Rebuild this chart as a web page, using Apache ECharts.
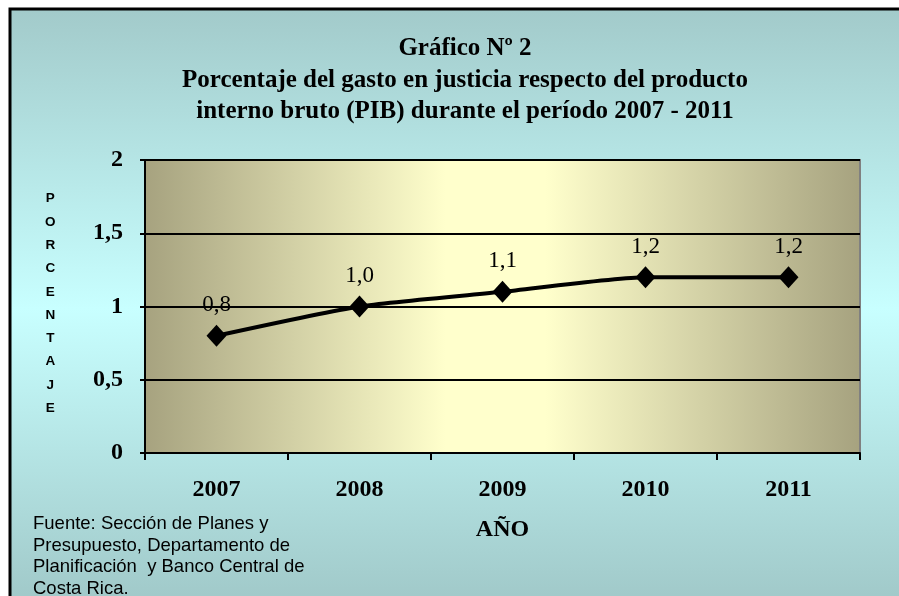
<!DOCTYPE html>
<html>
<head>
<meta charset="utf-8">
<style>html,body{margin:0;padding:0;background:#fff;}#c{width:899px;height:596px;}</style>
<script src="https://cdn.jsdelivr.net/npm/echarts@6/dist/echarts.min.js"></script>
</head>
<body>
<div id="c"></div>
<script>
const categories = ['2007', '2008', '2009', '2010', '2011'];
const values = [0.8, 1.0, 1.1, 1.2, 1.2];
const yTicks = ['0', '0,5', '1', '1,5', '2'];
const titleLines = ['Gráfico Nº 2', 'Porcentaje del gasto en justicia respecto del producto', 'interno bruto (PIB) durante el período 2007 - 2011'];
const yName = 'PORCENTAJE';
const xName = 'AÑO';
const sourceLines = ['Fuente: Sección de Planes y', 'Presupuesto, Departamento de', 'Planificación  y Banco Central de', 'Costa Rica.'];

const serif = '"Liberation Serif", "Times New Roman", serif';
const sans = '"Liberation Sans", Arial, sans-serif';

const chart = echarts.init(document.getElementById('c'));
chart.setOption({
  animation: false,
  title: {
    text: titleLines.join('\n'),
    left: 460, top: 28, textAlign: 'center',
    textStyle: { fontFamily: serif, fontWeight: 'bold', fontSize: 25, lineHeight: 31.5, color: '#000' }
  },
  graphic: [
    {
      type: 'rect', z: -10, silent: true,
      shape: { x: 10, y: 9, width: 900, height: 600 },
      style: {
        fill: new echarts.graphic.LinearGradient(0, 0, 0, 1, [
          { offset: 0, color: '#a2caca' },
          { offset: 0.5, color: '#c8ffff' },
          { offset: 1, color: '#9fc7c7' }
        ]),
        stroke: '#000', lineWidth: 3
      }
    },
    {
      type: 'text', left: 45, top: 187, z: 5,
      style: {
        text: yName.split('').join('\n'),
        font: 'bold 13.5px ' + sans, lineHeight: 23.3, fill: '#000', textAlign: 'center'
      }
    },
    {
      type: 'text', left: 33, top: 513, z: 5,
      style: {
        text: sourceLines.join('\n'),
        font: '18.5px ' + sans, lineHeight: 21.7, fill: '#000'
      }
    }
  ],
  grid: {
    left: 145, right: 39, top: 160, bottom: 143,
    show: true, borderColor: '#808080', borderWidth: 2,
    backgroundColor: new echarts.graphic.LinearGradient(0, 0, 1, 0, [
      { offset: 0, color: '#a6a27f' },
      { offset: 0.42, color: '#ffffcc' },
      { offset: 0.56, color: '#ffffcc' },
      { offset: 1, color: '#a6a27f' }
    ])
  },
  xAxis: {
    type: 'category', data: categories, boundaryGap: true,
    name: xName, nameLocation: 'middle', nameGap: 65,
    nameTextStyle: { fontFamily: serif, fontWeight: 'bold', fontSize: 24, color: '#000' },
    axisLine: { lineStyle: { color: '#000', width: 2 } },
    axisTick: { show: true, length: 7, lineStyle: { color: '#000', width: 2 }, alignWithLabel: false },
    axisLabel: { margin: 25, fontFamily: serif, fontWeight: 'bold', fontSize: 24, color: '#000' }
  },
  yAxis: {
    type: 'value', min: 0, max: 2, interval: 0.5,
    axisLine: { show: true, lineStyle: { color: '#000', width: 2 } },
    axisTick: { show: true, length: 5, lineStyle: { color: '#000', width: 2 } },
    axisLabel: {
      margin: 22, fontFamily: serif, fontWeight: 'bold', fontSize: 24, color: '#000',
      formatter: function (v) { return yTicks[Math.round(v / 0.5)]; }
    },
    splitLine: { show: true, lineStyle: { color: '#000', width: 2 } }
  },
  series: [{
    type: 'line', data: values, smooth: 0.2,
    symbol: 'diamond', symbolSize: [20, 22],
    itemStyle: { color: '#000' },
    lineStyle: { color: '#000', width: 4 },
    label: {
      show: true, position: 'top', distance: 8,
      fontFamily: serif, fontSize: 23, color: '#000',
      formatter: function (p) { return p.value.toFixed(1).replace('.', ','); }
    }
  }]
});
</script>
</body>
</html>
